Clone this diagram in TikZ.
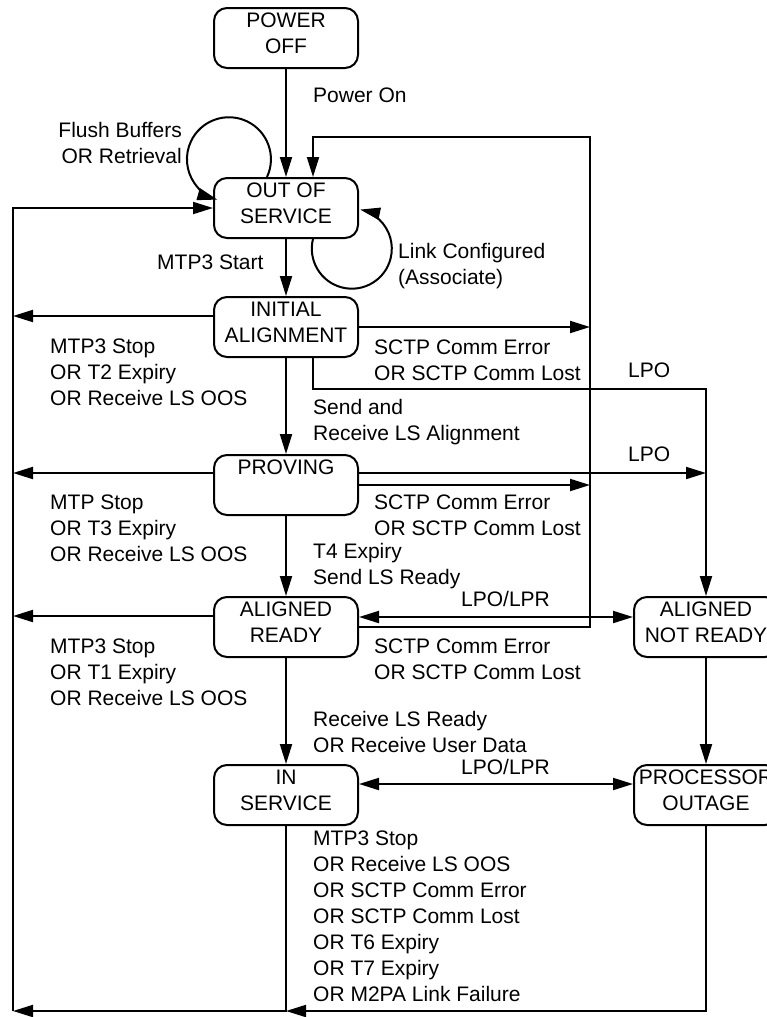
\documentclass[tikz,border=0pt]{standalone}
\usepackage{fontspec}
\setmainfont{Liberation Sans}
\usetikzlibrary{arrows.meta,positioning}

\begin{document}
\begin{tikzpicture}[x=1pt, y=1pt, font=\fontsize{21}{26}\selectfont,
    state/.style={draw, line width=2pt, rounded corners=13pt, minimum width=144pt, minimum height=60pt,
        align=center, inner sep=2pt, execute at end node={\rule[-10pt]{0pt}{1pt}}},
    cond/.style={align=left, inner sep=0pt, anchor=north west},
    trans/.style={line width=2pt, -{Triangle[length=20pt,width=12pt]}},
    both/.style={line width=2pt, {Triangle[length=20pt,width=12pt]}-{Triangle[length=20pt,width=12pt]}}]
    \useasboundingbox (0,0) rectangle (767,-1017);

    \node[state] (poweroff) at (286,-38) {POWER\\OFF};
    \node[state] (oos) at (286,-208) {OUT OF\\SERVICE};
    \node[state] (init) at (286,-327) {INITIAL\\ALIGNMENT};
    \node[state] (proving) at (286,-485) {PROVING\\\phantom{P}};
    \node[state] (aready) at (286,-627) {ALIGNED\\READY};
    \node[state] (inserv) at (286,-795) {IN\\SERVICE};
    \node[state] (anready) at (706,-627) {ALIGNED\\NOT READY};
    \node[state] (outage) at (706,-795) {PROCESSOR\\OUTAGE};

    \coordinate (leftbus) at (13,-1011);
    \coordinate (rightbus) at (590,-137);

    \draw[trans] (poweroff) -- (oos);
    \draw[trans] (oos) -- (init);
    \draw[trans] (init) -- (proving);
    \draw[trans] (proving) -- (aready);
    \draw[trans] (aready) -- (inserv);
    \draw[trans] (anready) -- (outage);

    \draw[trans] ([xshift=-19pt]oos.north) arc[start angle=-25, end angle=254, radius=42];
    \draw[trans] ([xshift=27pt]oos.south) arc[start angle=166, end angle=438, radius=40];

    \draw[trans] (leftbus) |- (oos.west);
    \draw[trans] ([yshift=11pt]init.west) -- ([yshift=11pt]init.west -| leftbus);
    \draw[trans] ([yshift=12pt]proving.west) -- ([yshift=12pt]proving.west -| leftbus);
    \draw[trans] ([yshift=11pt]aready.west) -- ([yshift=11pt]aready.west -| leftbus);
    \draw[trans] (inserv) |- (leftbus);
    \draw[trans] (outage) |- (inserv.south |- leftbus);

    \draw[trans] (aready.east) -| (rightbus) -| ([xshift=27pt]oos.north);
    \draw[trans] (init.east) -- (init.east -| rightbus);
    \draw[trans] (proving.east) -- (proving.east -| rightbus);

    \draw[trans] ([xshift=27pt]init.south) -- ++(0,-31) -| (anready.north);
    \draw[trans] ([yshift=12pt]proving.east) -- ([yshift=12pt]proving.east -| anready.north);

    \draw[both] ([yshift=10pt]aready.east) -- ([yshift=10pt]anready.west);
    \draw[both] ([yshift=11pt]inserv.east) -- ([yshift=11pt]outage.west);

    \node[cond] (lblon) at (313,-88) {Power On};
    \node[cond, align=right, anchor=north east] (lblflush) at (182,-122) {Flush Buffers\\OR Retrieval};
    \node[cond] (lblstart) at (157,-255) {MTP3 Start};
    \node[cond] (lblassoc) at (398,-243) {Link Configured\\(Associate)};
    \node[cond] (lblerr1) at (374,-340) {SCTP Comm Error\\OR SCTP Comm Lost};
    \node[cond] (lblstop1) at (50,-339) {MTP3 Stop\\OR T2 Expiry\\OR Receive LS OOS};
    \node[cond] (lbllpo1) at (628,-363) {LPO};
    \node[cond] (lblalign) at (313,-399) {Send and\\Receive LS Alignment};
    \node[cond] (lbllpo2) at (628,-447) {LPO};
    \node[cond] (lblerr2) at (374,-495) {SCTP Comm Error\\OR SCTP Comm Lost};
    \node[cond] (lblstop2) at (50,-495) {MTP Stop\\OR T3 Expiry\\OR Receive LS OOS};
    \node[cond] (lblready) at (313,-543) {T4 Expiry\\Send LS Ready};
    \node[cond] (lbllpr1) at (461,-591) {LPO/LPR};
    \node[cond] (lblerr3) at (374,-639) {SCTP Comm Error\\OR SCTP Comm Lost};
    \node[cond] (lblstop3) at (50,-639) {MTP3 Stop\\OR T1 Expiry\\OR Receive LS OOS};
    \node[cond] (lbldata) at (313,-711) {Receive LS Ready\\OR Receive User Data};
    \node[cond] (lbllpr2) at (461,-759) {LPO/LPR};
    \node[cond] (lblfail) at (313,-831) {MTP3 Stop\\OR Receive LS OOS\\OR SCTP Comm Error\\OR SCTP Comm Lost\\OR T6 Expiry\\OR T7 Expiry\\OR M2PA Link Failure};
\end{tikzpicture}
\end{document}
